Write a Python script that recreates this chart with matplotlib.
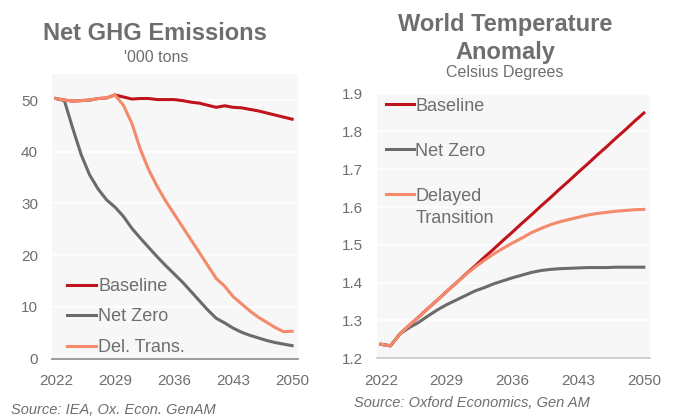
import numpy as np
import matplotlib
matplotlib.use("Agg")
import matplotlib.pyplot as plt

plt.rcParams["font.family"] = ["Liberation Sans", "DejaVu Sans"]

# colours
RED = "#c0141c"
GREY = "#6b6b6b"
SALMON = "#f4896b"
TXT = "#6e6e6e"
BG = "#f7f7f7"

# ---- data: net GHG emissions ('000 tons)
years = np.arange(2022, 2051)
ghg_baseline = [50.3, 50.0, 49.8, 49.9, 50.0, 50.3, 50.4, 51.0, 50.6, 50.2,
                50.3, 50.3, 50.1, 50.1, 50.1, 49.9, 49.6, 49.4, 49.0, 48.6,
                48.9, 48.6, 48.5, 48.2, 47.9, 47.5, 47.1, 46.7, 46.3]
ghg_netzero = [50.3, 49.9, 44.5, 39.4, 35.5, 32.8, 30.7, 29.3, 27.5, 25.2,
               23.3, 21.5, 19.7, 18.0, 16.4, 14.8, 13.0, 11.2, 9.4, 7.8,
               6.9, 5.9, 5.1, 4.5, 4.0, 3.5, 3.1, 2.8, 2.5]
ghg_delayed = [50.3, 50.0, 49.8, 49.9, 50.0, 50.3, 50.4, 51.0, 49.0, 45.5,
               40.5, 36.5, 33.3, 30.5, 28.0, 25.5, 23.0, 20.5, 18.0, 15.5,
               14.0, 12.0, 10.6, 9.2, 8.0, 7.0, 6.0, 5.2, 5.3]

# ---- data: world temperature anomaly (Celsius)
temp_baseline = [1.237, 1.233, 1.264, 1.287, 1.309, 1.332, 1.354, 1.377, 1.399, 1.422,
                 1.444, 1.467, 1.489, 1.512, 1.534, 1.557, 1.579, 1.602, 1.624, 1.647,
                 1.669, 1.692, 1.714, 1.737, 1.759, 1.782, 1.804, 1.827, 1.849]
temp_netzero = [1.237, 1.233, 1.264, 1.281, 1.295, 1.312, 1.328, 1.342, 1.354, 1.366,
                1.378, 1.387, 1.397, 1.405, 1.413, 1.420, 1.427, 1.432, 1.435, 1.437,
                1.438, 1.439, 1.440, 1.440, 1.440, 1.441, 1.441, 1.441, 1.441]
temp_delayed = [1.237, 1.233, 1.264, 1.287, 1.309, 1.332, 1.354, 1.377, 1.399, 1.421,
                1.441, 1.459, 1.476, 1.491, 1.505, 1.518, 1.532, 1.543, 1.553, 1.561,
                1.567, 1.573, 1.579, 1.583, 1.586, 1.589, 1.591, 1.593, 1.594]

xticks = [2022, 2029, 2036, 2043, 2050]

fig = plt.figure(figsize=(6.76, 4.17), dpi=100)
ax1 = fig.add_axes([0.0769, 0.140, 0.364, 0.682])
ax2 = fig.add_axes([0.5577, 0.1408, 0.4038, 0.6345])

for ax in (ax1, ax2):
    ax.set_facecolor(BG)
    for s in ("top", "right", "left"):
        ax.spines[s].set_visible(False)
    ax.grid(axis="y", color="white", lw=1.2)
    ax.set_axisbelow(True)
    ax.tick_params(length=0, labelsize=11, labelcolor=TXT)
    ax.tick_params(axis="x", pad=11)
    ax.tick_params(axis="y", pad=10)
    ax.set_xticks(xticks)

# left chart
lw = 2.2
ax1.plot(years, ghg_baseline, color=RED, lw=lw, label="Baseline", zorder=3)
ax1.plot(years, ghg_netzero, color=GREY, lw=lw, label="Net Zero", zorder=3)
ax1.plot(years, ghg_delayed, color=SALMON, lw=lw, label="Del. Trans.", zorder=4)
ax1.set_xlim(2021.53, 2050.7)
ax1.set_ylim(0, 55)
ax1.set_yticks([0, 10, 20, 30, 40, 50])
ax1.spines["bottom"].set_color("#8c8c8c")
ax1.spines["bottom"].set_linewidth(1.2)
leg1 = ax1.legend(loc="lower left", bbox_to_anchor=(0.01, -0.035), frameon=False,
                  fontsize=13, handlelength=1.6, handletextpad=0.12,
                  labelspacing=0.75, borderaxespad=0.3)
for t in leg1.get_texts():
    t.set_color(TXT)

# right chart
ax2.plot(years, temp_baseline, color=RED, lw=lw, label="Baseline", zorder=3)
ax2.plot(years, temp_netzero, color=GREY, lw=lw, label="Net Zero", zorder=3)
ax2.plot(years, temp_delayed, color=SALMON, lw=lw, label="Delayed", zorder=4)
ax2.set_xlim(2021.57, 2050.65)
ax2.set_ylim(1.2, 1.9)
ax2.set_yticks(np.arange(1.2, 1.91, 0.1))
ax2.set_yticklabels(["%.1f" % v for v in np.arange(1.2, 1.91, 0.1)])
ax2.spines["bottom"].set_color("#c8c8c8")
ax2.spines["bottom"].set_linewidth(1.2)
leg2 = ax2.legend(loc="upper left", bbox_to_anchor=(-0.015, 1.033), frameon=False,
                  fontsize=13, handlelength=1.6, handletextpad=0.05,
                  labelspacing=1.55, borderaxespad=0.3)
for t in leg2.get_texts():
    t.set_color(TXT)

# second line of the "Delayed Transition" label
fig.canvas.draw()
bb = leg2.get_texts()[2].get_window_extent()
inv = fig.transFigure.inverted()
x0, y0 = inv.transform((bb.x0, bb.y0))
fig.text(x0, y0 - 22 / 417, "Transition", fontsize=13, color=TXT,
         ha="left", va="bottom")

# titles
fig.text(155 / 676, 1 - 33 / 417, "Net GHG Emissions", fontsize=17,
         fontweight="bold", color=TXT, ha="center", va="center")
fig.text(156 / 676, 1 - 57 / 417, "'000 tons", fontsize=11.5,
         color=TXT, ha="center", va="center")
fig.text(505 / 676, 1 - 25 / 417, "World Temperature", fontsize=17,
         fontweight="bold", color=TXT, ha="center", va="center")
fig.text(505 / 676, 1 - 52 / 417, "Anomaly", fontsize=17,
         fontweight="bold", color=TXT, ha="center", va="center")
fig.text(504.5 / 676, 1 - 73 / 417, "Celsius Degrees", fontsize=11.5,
         color=TXT, ha="center", va="center")

# sources
fig.text(11 / 676, 1 - 410 / 417, "Source: IEA, Ox. Econ. GenAM", fontsize=10.5,
         style="italic", color=TXT, ha="left", va="center")
fig.text(354 / 676, 1 - 403 / 417, "Source: Oxford Economics, Gen AM", fontsize=10.5,
         style="italic", color=TXT, ha="left", va="center")

fig.savefig("out.png", dpi=100)
